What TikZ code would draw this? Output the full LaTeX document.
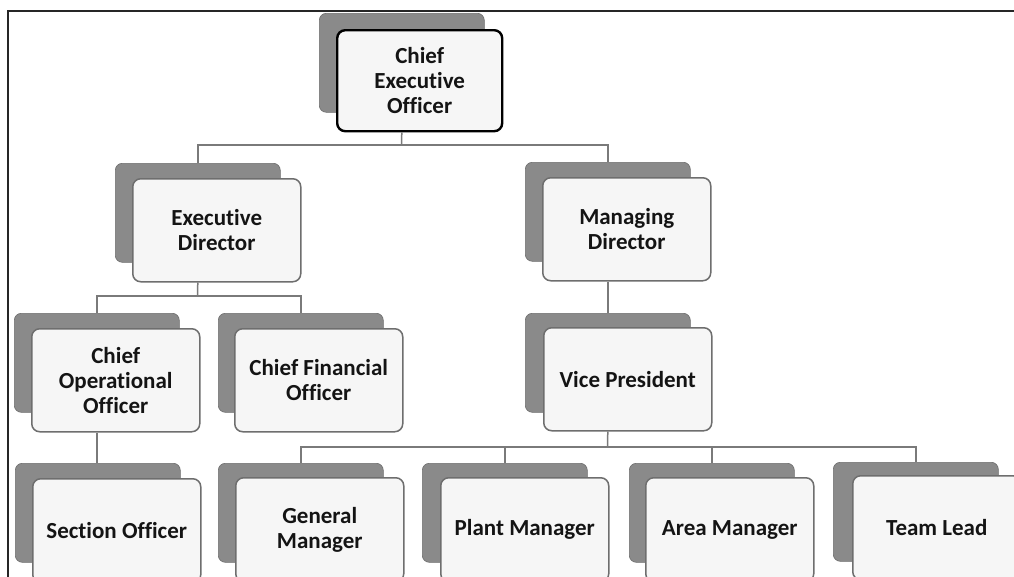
\documentclass[tikz,border=0pt]{standalone}
\usepackage{fontspec}
\setmainfont{Carlito}[Ligatures=NoCommon]
\definecolor{backgray}{HTML}{8A8A8A}
\definecolor{frontfill}{HTML}{F6F6F6}
\definecolor{edgegray}{HTML}{6E6E6E}
\definecolor{linegray}{HTML}{7A7A7A}
\begin{document}
\begin{tikzpicture}[x=1pt,y=-1pt,
  backbox/.style={draw=backgray!80!black,line width=0.6pt,fill=backgray,rounded corners=7pt,
    minimum width=165pt,minimum height=99pt,inner sep=0pt,anchor=north west},
  frontbox/.style={draw=edgegray,line width=1.5pt,fill=frontfill,rounded corners=8pt,
    minimum width=168pt,minimum height=103pt,inner sep=0pt,anchor=north west,
    align=center,font=\fontsize{23}{25}\selectfont\bfseries,text=black!92},
  topbox/.style={frontbox,draw=black,line width=2.4pt},
  conn/.style={draw=linegray,line width=1.5pt},
  frame/.style={draw=black!85,line width=2pt}]
\useasboundingbox (0,0) rectangle (1014,576);
\clip (0,0) rectangle (1014,576);
\fill[white] (0,0) rectangle (1014,576);
% frame
\coordinate (fTL) at (8,11);
\coordinate (fTR) at (1016,11);
\coordinate (fBL) at (8,580);
\draw[frame] (fBL) -- (fTL) -- (fTR);

% CEO
\node[backbox] (ceob) at (319,13) {};
\node[topbox,minimum width=165pt,minimum height=101pt] (ceo) at (336,29) {Chief\\Executive\\Officer};
% level 2
\node[backbox] (edb) at (115,163) {};
\node[frontbox] (ed) at (132,178) {Executive\\Director};
\node[backbox] (mdb) at (525,162) {};
\node[frontbox] (md) at (542,177) {Managing\\Director};
% level 3
\node[backbox] (coob) at (14,313) {};
\node[frontbox] (coo) at (31,328) {Chief\\Operational\\Officer};
\node[backbox] (cfob) at (218,313) {};
\node[frontbox] (cfo) at (234,328) {Chief Financial\\Officer};
\node[backbox] (vpb) at (525,313) {};
\node[frontbox] (vp) at (543,327) {Vice President};
% level 4
\node[backbox] (sob) at (15,463) {};
\node[frontbox,minimum height=104pt] (so) at (32,478) {Section Officer};
\node[backbox] (gmb) at (218,463) {};
\node[frontbox,minimum height=104pt] (gm) at (235,477) {General\\Manager};
\node[backbox] (pmb) at (422,463) {};
\node[frontbox,minimum height=104pt] (pm) at (440,477) {Plant Manager};
\node[backbox] (amb) at (629,463) {};
\node[frontbox,minimum height=104pt] (am) at (645,477) {Area Manager};
\node[backbox] (tlb) at (833,462) {};
\node[frontbox,minimum height=104pt] (tl) at (852,475) {Team Lead};

% junctions
\coordinate (j1) at (401.5,145);
\coordinate (j2) at (197.5,296);
\coordinate (j3) at (607.5,447);

% connectors
\draw[conn] (ceob.center |- ceo.south) -- (j1);
\draw[conn] (j1) -| (edb.north);
\draw[conn] (j1) -| (mdb.north);
\draw[conn] (edb.center |- ed.south) -- (j2);
\draw[conn] (j2) -| (coob.north);
\draw[conn] (j2) -| (cfob.north);
\draw[conn] (mdb.center |- md.south) -- (vpb.north);
\draw[conn] (coob.center |- coo.south) -- (coob.center |- sob.north);
\draw[conn] (vpb.center |- vp.south) -- (j3);
\draw[conn] (j3) -| (gmb.north);
\draw[conn] (j3) -| (pmb.north);
\draw[conn] (j3) -| (amb.north);
\draw[conn] (j3) -| (tlb.north);
\end{tikzpicture}
\end{document}
